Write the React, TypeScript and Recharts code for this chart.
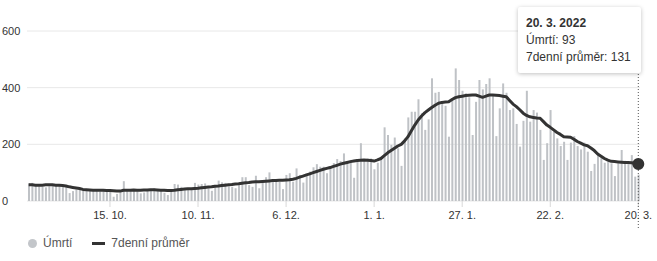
import React from "react";
import {
  ComposedChart,
  Bar,
  Line,
  XAxis,
  YAxis,
  CartesianGrid,
  Tooltip,
} from "recharts";

// daily deaths, 21. 9. 2021 – 20. 3. 2022
const deaths = [
  62, 64, 55, 52, 50, 48, 52, 58, 60, 55,
  52, 50, 28, 35, 40, 42, 40, 38, 37, 40,
  38, 34, 40, 38, 36, 15, 25, 38, 70, 40,
  36, 38, 35, 27, 30, 38, 40, 45, 42, 40,
  29, 21, 38, 60, 58, 50, 45, 42, 40, 64,
  58, 60, 62, 45, 36, 52, 72, 66, 64, 52,
  50, 45, 56, 84, 84, 56, 50, 89, 45, 68,
  84, 101, 74, 68, 68, 42, 92, 98, 68, 115,
  92, 65, 92, 104, 119, 130, 121, 121, 98, 121,
  134, 148, 141, 168, 140, 145, 82, 145, 204, 145,
  150, 150, 112, 135, 148, 260, 233, 198, 224, 186,
  124, 221, 295, 315, 315, 359, 310, 251, 288, 433,
  382, 385, 345, 336, 227, 362, 468, 427, 389, 380,
  366, 233, 350, 427, 394, 413, 433, 371, 229, 327,
  415, 382, 321, 327, 272, 192, 283, 389, 280, 321,
  312, 251, 145, 204, 321, 245, 221, 194, 209, 145,
  206, 229, 194, 182, 206, 174, 106, 131, 162, 151,
  135, 139, 133, 88, 133, 180, 142, 139, 162, 86, 93,
];

// 7-day average
const avg7 = [
  57, 57, 56, 56, 56, 57, 57, 57, 56, 56,
  55, 53, 50, 48, 46, 44, 41, 40, 39, 38,
  38, 38, 38, 37, 37, 36, 35, 35, 38, 38,
  38, 39, 38, 38, 39, 39, 40, 40, 39, 38,
  38, 37, 37, 38, 40, 41, 42, 43, 43, 44,
  45, 47, 48, 49, 50, 52, 53, 55, 56, 57,
  58, 60, 61, 63, 64, 65, 67, 68, 68, 69,
  70, 71, 72, 72, 73, 73, 74, 75, 77, 80,
  84, 88, 92, 96, 100, 104, 108, 112, 115, 118,
  122, 126, 130, 133, 136, 139, 141, 143, 144, 145,
  144, 143, 141, 145, 150, 160, 170, 178, 186, 194,
  200, 212, 227, 248, 268, 286, 300, 312, 321, 330,
  338, 345, 348, 349, 350, 358, 365, 368, 370, 372,
  373, 374, 374, 370, 366, 370, 374, 374, 373, 372,
  370, 368, 355, 342, 333, 322, 310, 302, 297, 295,
  293, 292, 280, 268, 260, 251, 242, 235, 227, 226,
  225, 218, 210, 204, 198, 195, 187, 178, 166, 158,
  150, 144, 140, 139, 138, 137, 136, 136, 135, 133, 131,
];

const xTicks = ["15. 10.", "10. 11.", "6. 12.", "1. 1.", "27. 1.", "22. 2.", "20. 3."];
const yTicks = [0, 200, 400, 600];

const data = deaths.map((v, i) => {
  const d = new Date(2021, 8, 21 + i);
  const label = `${d.getDate()}. ${d.getMonth() + 1}.`;
  return { label, full: `${label} ${d.getFullYear()}`, deaths: v, avg: avg7[i] };
});

const FONT = "'Liberation Sans', Arial, sans-serif";

const YTick = ({ y, payload }: any) => (
  <text x={2} y={y + 4} fontSize={11} fill="#333" fontFamily={FONT}>
    {payload.value}
  </text>
);

const XTick = ({ x, y, payload }: any) => (
  <text x={x} y={y + 10} fontSize={11} fill="#333" textAnchor="middle" fontFamily={FONT}>
    {payload.value}
  </text>
);

const DottedCursor = (props: any) => {
  const cx = props.points && props.points.length
    ? props.points[0].x
    : props.x + props.width / 2;
  return <line x1={cx} x2={cx} y1={68} y2={230} stroke="#555" strokeDasharray="1 2" />;
};

const TipBox = ({ active, payload }: any) => {
  if (!active || !payload || !payload.length) return null;
  const p = payload[0].payload;
  return (
    <div
      style={{
        background: "#fff",
        boxShadow: "0 1px 4px rgba(0,0,0,0.25)",
        borderRadius: 2,
        padding: "8px 10px 7px 8px",
        fontFamily: FONT,
        fontSize: 12,
        lineHeight: "17px",
        color: "#333",
        whiteSpace: "nowrap",
      }}
    >
      <div style={{ fontWeight: "bold" }}>{p.full}</div>
      <div>Úmrtí: {p.deaths}</div>
      <div>7denní průměr: {p.avg}</div>
    </div>
  );
};

export default function App() {
  return (
    <div style={{ position: "absolute", left: 0, top: 0, width: 657, height: 261, background: "#fff" }}>
      <ComposedChart
        width={657}
        height={261}
        data={data}
        margin={{ top: 31, right: 17, bottom: 30, left: 0 }}
        barSize={2}
      >
        <CartesianGrid vertical={false} stroke="#e8e8e8" />
        <XAxis
          dataKey="label"
          ticks={xTicks}
          interval={0}
          height={30}
          tick={<XTick />}
          tickSize={6}
          tickLine={{ stroke: "#d8d8d8" }}
          axisLine={false}
        />
        <YAxis
          domain={[0, 600]}
          ticks={yTicks}
          width={27}
          tick={<YTick />}
          tickLine={false}
          axisLine={false}
        />
        <Tooltip
          defaultIndex={180}
          active
          position={{ x: 518, y: 7 }}
          content={<TipBox />}
          cursor={<DottedCursor />}
          isAnimationActive={false}
          wrapperStyle={{ outline: "none" }}
        />
        <Bar dataKey="deaths" fill="#bfc2c6" isAnimationActive={false} />
        <Line
          dataKey="avg"
          type="linear"
          stroke="#333"
          strokeWidth={3}
          strokeLinejoin="round"
          dot={false}
          activeDot={{ r: 5, fill: "#333", stroke: "#333" }}
          isAnimationActive={false}
        />
      </ComposedChart>
      <div
        style={{
          position: "absolute",
          left: 28,
          top: 236,
          display: "flex",
          alignItems: "center",
          fontFamily: FONT,
          fontSize: 12,
          color: "#555",
        }}
      >
        <span style={{ width: 9, height: 9, borderRadius: "50%", background: "#c3c6ca", marginRight: 6 }} />
        <span>Úmrtí</span>
        <span style={{ width: 13, height: 3, background: "#333", marginLeft: 20, marginRight: 6 }} />
        <span>7denní průměr</span>
      </div>
    </div>
  );
}
